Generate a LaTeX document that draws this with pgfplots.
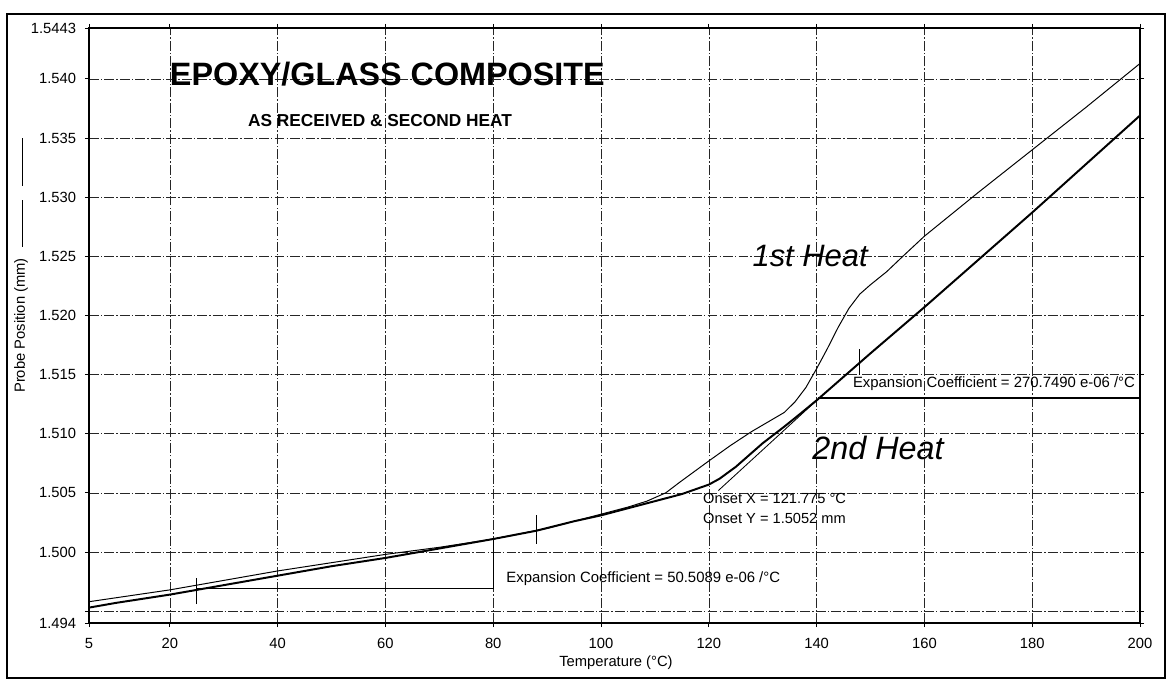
\documentclass[border=0pt]{standalone}
\usepackage{fontspec}
\setmainfont{Liberation Sans}
\usepackage{pgfplots}
\pgfplotsset{compat=1.18}

\begin{document}
\begin{tikzpicture}
\useasboundingbox (0,0) rectangle (293.75mm,170.75mm);
% outer frame of the scanned chart
\draw[line width=1.8pt] (1.75mm,1.25mm) rectangle (291.25mm,167.25mm);
\draw[line width=0.6pt] (5.5mm,124.25mm) -- (5.5mm,136.25mm);
\draw[line width=0.6pt] (5.5mm,109mm) -- (5.5mm,120.75mm);
\begin{axis}[
    at={(22.25mm,15mm)}, anchor=south west,
    scale only axis,
    width=262.75mm, height=148.75mm,
    xmin=5, xmax=200, ymin=1.494, ymax=1.5443,
    xtick={5,20,40,60,80,100,120,140,160,180,200},
    ytick={1.494,1.495,1.500,1.505,1.510,1.515,1.520,1.525,1.530,1.535,1.540,1.5443},
    yticklabels={1.494,,1.500,1.505,1.510,1.515,1.520,1.525,1.530,1.535,1.540,1.5443},
    /pgf/number format/assume math mode=true,
    tick label style={font=\fontsize{10.5}{12}\selectfont},
    xticklabel style={yshift=-1.5mm},
    yticklabel style={xshift=-1mm},
    tick align=outside, major tick length=1mm,
    tick style={black, line width=0.6pt},
    xmajorgrids, ymajorgrids,
    major grid style={black!85, line width=0.45pt, dash pattern=on 7pt off 1.5pt on 1pt off 1.5pt},
    axis line style={line width=0.9pt},
    xlabel={Temperature (°C)},
    ylabel={Probe Position (mm)},
    xlabel style={at={(axis description cs:0.5014,-0.067)}, anchor=center, font=\fontsize{10.5}{12}\selectfont},
    ylabel style={at={(axis description cs:-0.0647,0.5)}, anchor=center, font=\fontsize{10.5}{12}\selectfont},
    clip=false,
]
% 2nd heat (thick)
\addplot[black, line width=1.4pt] coordinates {
(5,1.4953) (10,1.4957) (20,1.4964) (30,1.4972) (40,1.4980) (50,1.4988)
(60,1.4995) (70,1.5003) (80,1.5011) (88,1.5018) (95,1.5026) (100,1.5031)
(105,1.5037) (110,1.5043) (115,1.5049) (120,1.5057) (122,1.5062)
(125,1.5072) (127,1.5080) (130,1.5092) (134,1.5106) (137,1.5117)
(140.2,1.5129) (150,1.5168) (160,1.5207) (170,1.5247) (180,1.5287)
(190,1.5328) (200,1.5369)
};
% 1st heat (thin)
\addplot[black, line width=0.7pt] coordinates {
(5,1.4958) (20,1.4968) (40,1.4984) (60,1.4998) (70,1.5004) (80,1.5011)
(90,1.5020) (100,1.5032) (105,1.5038) (108.5,1.5043) (112,1.5050)
(114.6,1.5059) (117,1.5067) (120,1.5077) (124,1.5090) (128,1.5102)
(131,1.5110) (134,1.5118) (136,1.5127) (138,1.5139) (140,1.5155)
(142,1.5172) (144,1.5190) (146,1.5206) (148,1.5218) (150,1.5226)
(153,1.5237) (156,1.5250) (160,1.5267) (170,1.5304) (180,1.5340)
(190,1.5376) (200,1.5413)
};
% expansion coefficient brackets and markers
\addplot[black, line width=0.8pt] coordinates {(25,1.4969) (80,1.4969) (80,1.5011)};
\addplot[black, line width=0.6pt] coordinates {(25,1.4956) (25,1.4978)};
\addplot[black, line width=0.6pt] coordinates {(88,1.5007) (88,1.5031)};
\addplot[black, line width=1.4pt] coordinates {(140.2,1.5130) (200,1.5130) (200,1.5369)};
\addplot[black, line width=0.6pt] coordinates {(148,1.5150) (148,1.5172)};
% onset tangent
\addplot[black, line width=0.6pt] coordinates {(121.775,1.5052) (140.2,1.5129)};

\node[anchor=west, font=\fontsize{23}{25}\selectfont\bfseries] at (axis cs:19.1,1.5404) {EPOXY/GLASS COMPOSITE};
\node[anchor=center, font=\fontsize{12.3}{14}\selectfont\bfseries] at (axis cs:59,1.5365) {AS RECEIVED \& SECOND HEAT};
\node[anchor=center, font=\fontsize{22}{24}\selectfont\itshape] at (axis cs:138.8,1.5250) {1st Heat};
\node[anchor=center, font=\fontsize{23}{25}\selectfont\itshape] at (axis cs:151.4,1.5088) {2nd Heat};
\node[anchor=west, inner sep=0, font=\fontsize{10.6}{12}\selectfont] at (axis cs:82.4,1.49778) {Expansion Coefficient = 50.5089 e-06 /°C};
\node[anchor=west, inner sep=0, font=\fontsize{10.6}{12}\selectfont] at (axis cs:146.7,1.51425) {Expansion Coefficient = 270.7490 e-06 /°C};
\node[anchor=west, inner sep=0, font=\fontsize{10.4}{12}\selectfont] at (axis cs:118.9,1.50452) {Onset X = 121.775 °C};
\node[anchor=west, inner sep=0, font=\fontsize{10.4}{12}\selectfont] at (axis cs:118.9,1.50282) {Onset Y = 1.5052 mm};
\end{axis}
\end{tikzpicture}
\end{document}
